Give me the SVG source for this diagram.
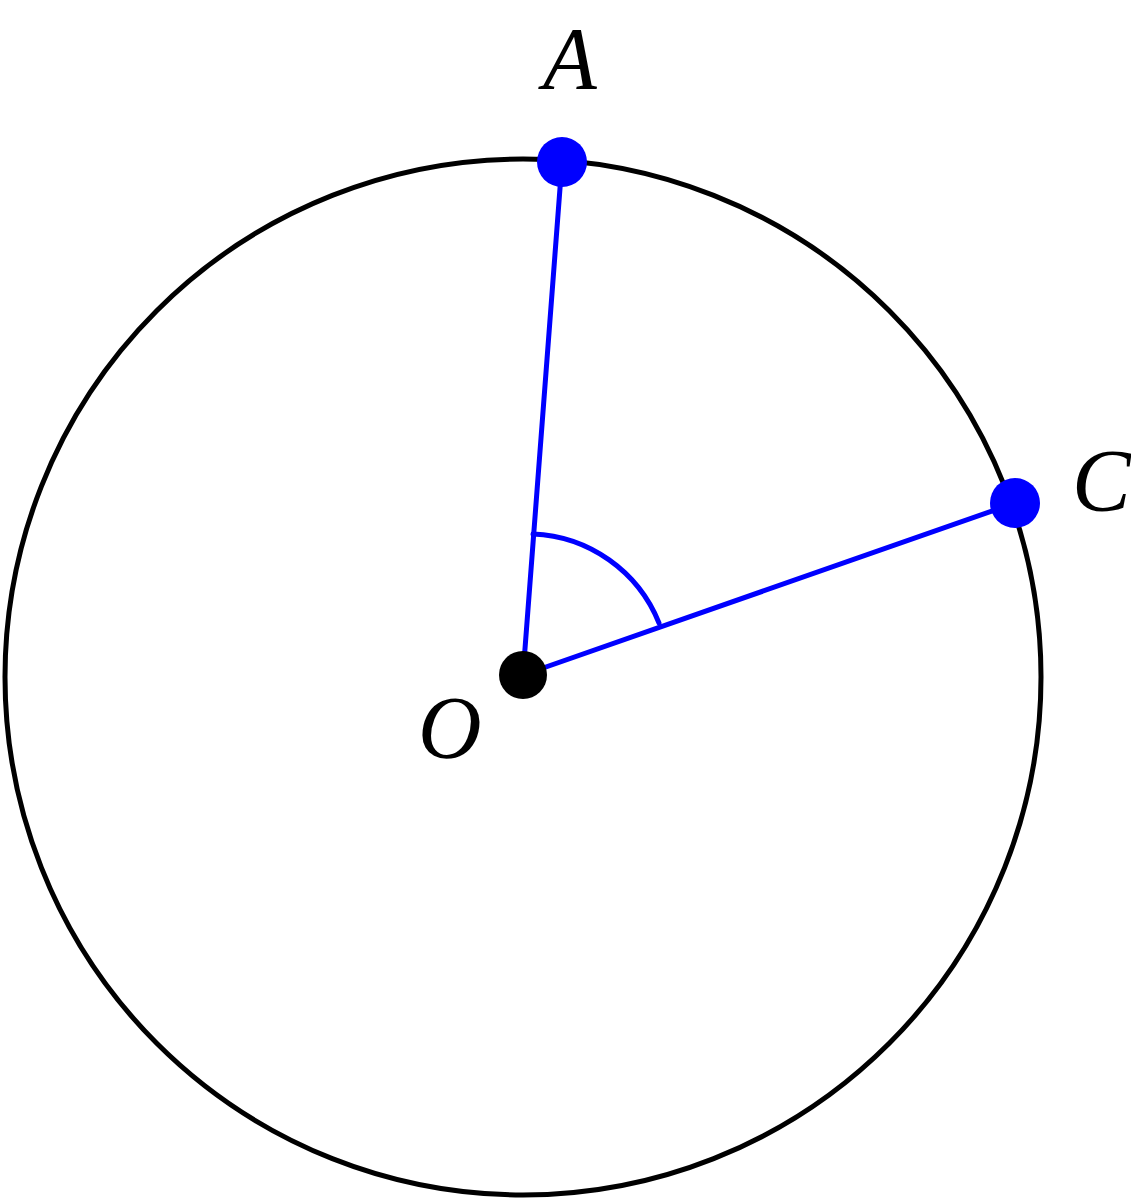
<svg xmlns="http://www.w3.org/2000/svg" width="1131" height="1200" viewBox="0 0 1131 1200">
<style>
.lbl{font-family:"Liberation Serif","DejaVu Serif",serif;font-style:italic;font-size:88px;fill:#000}
.seg{stroke:#0000ff;stroke-width:5;fill:none;stroke-linecap:round}
</style>
<rect width="1131" height="1200" fill="#fff"/>
<g id="circle"><circle cx="523" cy="677" r="518" fill="none" stroke="#000" stroke-width="5"/></g>
<g id="connectors">
<line class="seg" x1="523" y1="675" x2="562" y2="162"/>
<line class="seg" x1="523" y1="675" x2="1015" y2="503"/>
<path class="seg" d="M 533 534 A 142 142 0 0 1 659 623"/>
</g>
<g id="O"><circle cx="523" cy="675" r="24" fill="#000"/><text class="lbl" x="418" y="757">O</text></g>
<g id="A"><circle cx="562" cy="162" r="25" fill="#0000ff"/><text class="lbl" x="543" y="88">A</text></g>
<g id="C"><circle cx="1015" cy="503" r="25" fill="#0000ff"/><text class="lbl" x="1072" y="510">C</text></g>
</svg>
